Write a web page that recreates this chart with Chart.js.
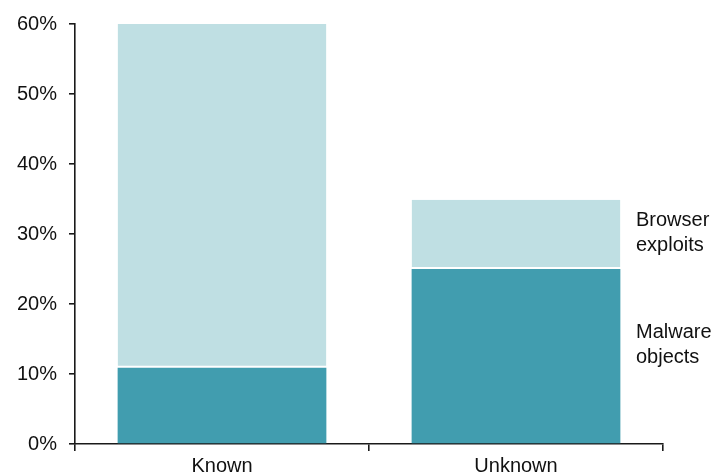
<!DOCTYPE html>
<html>
<head>
<meta charset="utf-8">
<script src="https://cdn.jsdelivr.net/npm/chart.js@4/dist/chart.umd.min.js"></script>
<style>
  html, body { margin: 0; padding: 0; background: #fff; }
  #wrap { width: 717px; height: 475px; }
</style>
</head>
<body>
<div id="wrap"><canvas id="c" width="717" height="475"></canvas></div>
<script>
const categories = ["Known", "Unknown"];
const malwareObjects = [10.9, 25.0];
const browserExploits = [49.1, 9.9];
const seriesNames = [["Malware", "objects"], ["Browser", "exploits"]];
const yTicks = [0, 10, 20, 30, 40, 50, 60];

const FONT = "'Liberation Sans', Arial, sans-serif";
const DARK = "rgb(65,157,175)";
const LIGHT = "rgb(191,223,227)";
const AXIS = "#1a1a1a";

const sideLabels = {
  id: "sideLabels",
  afterDatasetsDraw(chart, args, opts) {
    const { ctx, chartArea, scales } = chart;
    ctx.save();
    ctx.font = opts.size + "px " + FONT;
    ctx.fillStyle = "#111";
    ctx.textAlign = "left";
    ctx.textBaseline = "middle";
    opts.items.forEach(item => {
      const yc = scales.y.getPixelForValue(item.at);
      const n = item.lines.length;
      item.lines.forEach((t, i) => {
        ctx.fillText(t, chartArea.right + opts.dx, yc + (i - (n - 1) / 2) * opts.lineHeight);
      });
    });
    ctx.restore();
  }
};

new Chart(document.getElementById("c"), {
  type: "bar",
  data: {
    labels: categories,
    datasets: [
      {
        label: seriesNames[0].join(" "),
        data: malwareObjects,
        backgroundColor: DARK,
        borderWidth: 0,
        barPercentage: 0.71,
        categoryPercentage: 1
      },
      {
        label: seriesNames[1].join(" "),
        data: browserExploits,
        backgroundColor: LIGHT,
        borderColor: "#fff",
        borderWidth: { bottom: 2, top: 0, left: 0, right: 0 },
        borderSkipped: false,
        barPercentage: 0.71,
        categoryPercentage: 1
      }
    ]
  },
  options: {
    responsive: false,
    animation: false,
    devicePixelRatio: 1,
    layout: { padding: { top: 23, right: 54, left: 0, bottom: 0 } },
    plugins: {
      legend: { display: false },
      tooltip: { enabled: false },
      sideLabels: {
        size: 20,
        dx: -27,
        lineHeight: 25,
        items: [
          { lines: seriesNames[1], at: 30.2 },
          { lines: seriesNames[0], at: 14.1 }
        ]
      }
    },
    scales: {
      x: {
        stacked: true,
        afterFit(s) { s.height = 31; },
        border: { display: true, color: AXIS, width: 1.6 },
        grid: { display: true, offset: true, drawOnChartArea: false, tickLength: 7, color: AXIS, lineWidth: 1.6 },
        ticks: { color: "#111", font: { family: FONT, size: 20 }, padding: 3 }
      },
      y: {
        stacked: true,
        min: 0,
        max: 60,
        afterFit(s) { s.width = 75; },
        afterBuildTicks(s) { s.ticks = yTicks.map(v => ({ value: v })); },
        border: { display: true, color: AXIS, width: 1.6 },
        grid: { display: true, drawOnChartArea: false, tickLength: 6, color: AXIS, lineWidth: 1.6 },
        ticks: {
          color: "#111",
          font: { family: FONT, size: 20 },
          padding: 12,
          callback: v => v + "%"
        }
      }
    }
  },
  plugins: [sideLabels]
});
</script>
</body>
</html>
